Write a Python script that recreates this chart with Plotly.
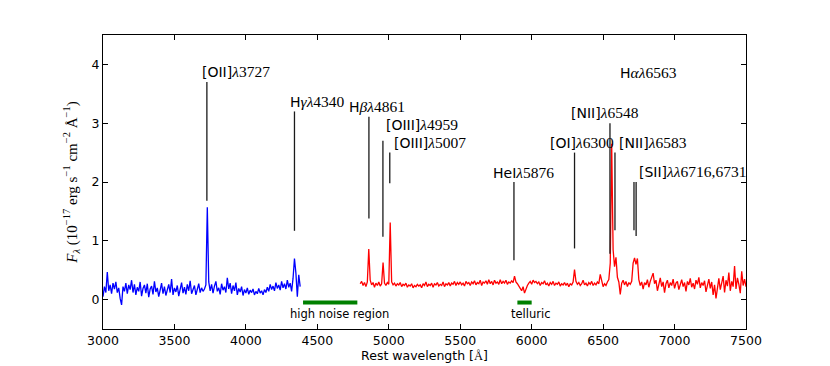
import plotly.graph_objects as go

# Spectrum sampling (Angstrom) for the two arms:
BLUE_START, RED_START, STEP = 3000, 4800, 10

# Blue arm flux (1e-17 erg/s/cm2/A), 3000-4380 A:
blue_flux = [
    0.05, 0.22, 0.12, 0.47, 0.15, 0.25, 0.10, 0.28, 0.18, 0.30,
    0.12, 0.20, 0.02, -0.09, 0.22, 0.14, 0.28, 0.10, 0.25, 0.17,
    0.33, 0.12, 0.26, 0.08, 0.21, 0.14, 0.30, 0.06, 0.19, 0.25,
    0.11, 0.27, 0.04, 0.18, 0.23, 0.09, 0.31, 0.13, 0.20, 0.05,
    0.16, 0.28, 0.10, 0.22, 0.07, 0.19, 0.26, 0.12, 0.35, 0.08,
    0.20, 0.13, 0.24, 0.06, 0.18, 0.29, 0.11, 0.21, 0.09, 0.26,
    0.15, 0.32, 0.10, 0.19, 0.24, 0.08, 0.17, 0.27, 0.12, 0.20,
    0.14, 0.18, 0.25, 1.57, 0.30, 0.15, 0.26, 0.11, 0.23, 0.31,
    0.14, 0.20, 0.09, 0.27, 0.16, 0.22, 0.12, 0.37, 0.18, 0.28,
    0.10, 0.24, 0.15, 0.29, 0.08, 0.19, 0.13, 0.22, 0.07, 0.17,
    0.11, 0.20, 0.09, 0.16, 0.12, 0.18, 0.08, 0.14, 0.10, 0.19,
    0.11, 0.15, 0.08, 0.17, 0.12, 0.21, 0.14, 0.26, 0.17, 0.23,
    0.15, 0.29, 0.19, 0.25, 0.16, 0.31, 0.20, 0.27, 0.18, 0.33,
    0.21, 0.28, 0.14, 0.36, 0.70, 0.45, 0.05, 0.42, 0.22,
]

# Red arm flux, 4800-7500 A:
red_flux = [
    0.27, 0.31, 0.24, 0.29, 0.22, 0.30, 0.86, 0.33, 0.25, 0.29,
    0.21, 0.28, 0.24, 0.30, 0.23, 0.27, 0.63, 0.28, 0.24, 0.29,
    0.26, 1.31, 0.30, 0.25, 0.28, 0.23, 0.27, 0.25, 0.29, 0.22,
    0.26, 0.24, 0.28, 0.21, 0.25, 0.23, 0.27, 0.20, 0.24, 0.22,
    0.26, 0.23, 0.25, 0.20, 0.27, 0.24, 0.30, 0.22, 0.26, 0.24,
    0.28, 0.21, 0.27, 0.25, 0.29, 0.23, 0.26, 0.24, 0.30, 0.22,
    0.27, 0.25, 0.29, 0.23, 0.28, 0.26, 0.31, 0.24, 0.29, 0.26,
    0.30, 0.25, 0.28, 0.23, 0.31, 0.27, 0.29, 0.24, 0.30, 0.27,
    0.32, 0.25, 0.29, 0.27, 0.33, 0.24, 0.30, 0.28, 0.32, 0.26,
    0.34, 0.27, 0.31, 0.25, 0.33, 0.28, 0.30, 0.26, 0.34, 0.27,
    0.31, 0.28, 0.33, 0.26, 0.30, 0.28, 0.32, 0.29, 0.40, 0.30,
    0.27, 0.24, 0.19, 0.15, 0.22, 0.11, 0.18, 0.24, 0.28, 0.31,
    0.26, 0.33, 0.29, 0.31, 0.27, 0.30, 0.24, 0.29, 0.27, 0.32,
    0.25, 0.28, 0.23, 0.29, 0.26, 0.31, 0.24, 0.28, 0.26, 0.30,
    0.23, 0.27, 0.25, 0.29, 0.24, 0.28, 0.22, 0.27, 0.25, 0.30,
    0.51, 0.31, 0.26, 0.29, 0.24, 0.27, 0.33, 0.25, 0.28, 0.23,
    0.29, 0.26, 0.31, 0.24, 0.28, 0.25, 0.30, 0.27, 0.43, 0.29,
    0.22, 0.27, 0.24, 0.30, 0.34, 0.62, 2.65, 0.85, 0.56, 0.72,
    0.38, 0.30, 0.09, 0.28, 0.33, 0.25, 0.31, 0.22, 0.29, 0.26,
    0.31, 0.62, 0.71, 0.60, 0.70, 0.34, 0.24, 0.30, 0.18, 0.29,
    0.25, 0.34, 0.21, 0.31, 0.38, 0.45, 0.27, 0.33, 0.15, 0.28,
    0.37, 0.22, 0.30, 0.12, 0.27, 0.33, 0.20, 0.29, 0.24, 0.35,
    0.19, 0.28, 0.31, 0.17, 0.26, 0.34, 0.22, 0.29, 0.14, 0.31,
    0.25, 0.36, 0.21, 0.28, 0.18, 0.33, 0.26, 0.38, 0.20, 0.29,
    0.24, 0.32, 0.13, 0.27, 0.35, 0.19, 0.30, 0.08, 0.25, 0.02,
    0.21, 0.36, 0.17, 0.29, 0.40, 0.12, 0.33, 0.23, 0.46, 0.15,
    0.31, 0.22, 0.57, 0.18, 0.37, 0.26, 0.11, 0.48, 0.24, 0.35,
    0.22,
]

# Emission line markers (wavelength, bottom and top of the tick line):
line_wave = [3727, 4340, 4861, 4959, 5007, 5876, 6300, 6548, 6583, 6716, 6731]
line_low = [1.68, 1.17, 1.38, 1.07, 1.98, 0.67, 0.87, 0.78, 1.18, 1.18, 1.08]
line_high = [3.70, 3.20, 3.11, 2.70, 2.50, 2.00, 2.50, 3.00, 2.50, 2.00, 2.00]

# Line labels: (sans part, greek part, digits), left x and y position:
label_ion = ["[OII]", "H", "H", "[OIII]", "[OIII]", "HeI", "[OI]", "[NII]", "[NII]", "[SII]", "H"]
label_greek = ["λ", "γλ", "βλ", "λ", "λ", "λ", "λ", "λ", "λ", "λλ", "αλ"]
label_num = ["3727", "4340", "4861", "4959", "5007", "5876", "6300", "6548", "6583", "6716,6731", "6563"]
label_x = [3679, 4295, 4708, 4969, 5020, 5713, 6112, 6261, 6595, 6739, 6602]
label_y = [3.88, 3.37, 3.28, 2.98, 2.68, 2.17, 2.68, 3.18, 2.68, 2.18, 3.87]

# Masked regions drawn under the spectrum:
noise_region = [4400, 4780]
telluric_region = [5900, 6000]
region_y = -0.05
region_text_y = -0.24

SERIF = "Liberation Serif"
SANS = "DejaVu Sans"

blue_wave = [BLUE_START + STEP * i for i in range(len(blue_flux))]
red_wave = [RED_START + STEP * i for i in range(len(red_flux))]

fig = go.Figure()

# Spectrum traces:
fig.add_trace(go.Scatter(x=blue_wave, y=blue_flux, mode="lines",
                         line=dict(color="#0000ff", width=1.3)))
fig.add_trace(go.Scatter(x=red_wave, y=red_flux, mode="lines",
                         line=dict(color="#ff0000", width=1.3)))

# Vertical line markers (one trace, gaps between segments):
mx, my = [], []
for w, lo, hi in zip(line_wave, line_low, line_high):
    mx += [w, w, None]
    my += [lo, hi, None]
fig.add_trace(go.Scatter(x=mx, y=my, mode="lines",
                         line=dict(color="#1a1a1a", width=1.3)))

# Green region bars:
for reg in (noise_region, telluric_region):
    fig.add_trace(go.Scatter(x=reg, y=[region_y, region_y], mode="lines",
                             line=dict(color="#008000", width=4)))

# Line labels:
for ion, gr, num, x, y in zip(label_ion, label_greek, label_num, label_x, label_y):
    txt = f"{ion}<span style='font-family:{SERIF};font-size:15.5px'><i>{gr}</i>{num}</span>"
    fig.add_annotation(x=x, y=y, text=txt, showarrow=False, xanchor="left",
                       yanchor="middle", font=dict(family=SANS, size=14, color="black"))

fig.add_annotation(x=sum(noise_region) / 2 + 65, y=region_text_y, text="high noise region",
                   showarrow=False, font=dict(family=SANS, size=11.5, color="black"))
fig.add_annotation(x=sum(telluric_region) / 2 + 45, y=region_text_y, text="telluric",
                   showarrow=False, font=dict(family=SANS, size=11.5, color="black"))

# Axes styling (matplotlib classic look):
axis_common = dict(showline=True, linecolor="black", linewidth=1, mirror="ticks",
                   ticks="inside", ticklen=5, tickcolor="black", showgrid=False,
                   zeroline=False, automargin=False,
                   tickfont=dict(family=SANS, size=12.5, color="black"))
fig.update_xaxes(range=[3000, 7500], tickvals=list(range(3000, 7501, 500)),
                 title=dict(text=f"Rest wavelength [<span style='font-family:{SERIF}'>Å</span>]",
                            font=dict(family=SANS, size=12.5, color="black"), standoff=3),
                 **axis_common)
fig.update_yaxes(range=[-0.5, 4.5], tickvals=[0, 1, 2, 3, 4],
                 title=dict(text="<i>F</i><sub><i>λ</i></sub> (10<sup>−17</sup> erg s<sup>−1</sup> "
                                 "cm<sup>−2</sup> Å<sup>−1</sup>)",
                            font=dict(family=SERIF, size=15, color="black"), standoff=10),
                 **axis_common)

# The page body adds an 8px offset, so the figure is drawn 8px smaller:
fig.update_layout(width=822, height=358, showlegend=False,
                  margin=dict(l=95, r=84, t=27, b=37),
                  plot_bgcolor="white", paper_bgcolor="white")

fig.write_html("out.html")
